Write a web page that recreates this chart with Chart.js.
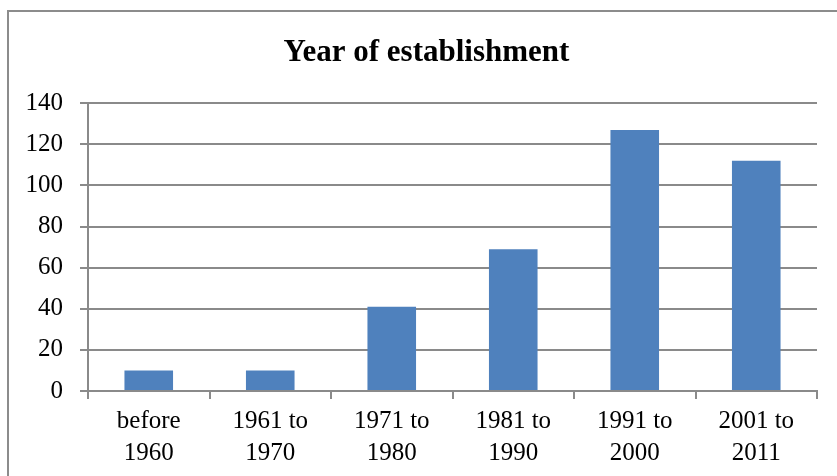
<!DOCTYPE html>
<html>
<head>
<meta charset="utf-8">
<script src="https://cdn.jsdelivr.net/npm/chart.js@4.4.1/dist/chart.umd.min.js"></script>
<style>
  html, body { margin: 0; padding: 0; background: #ffffff; overflow: hidden; }
  #frame {
    position: absolute; left: 7px; top: 10px;
    width: 900px; height: 600px;
    border: 2px solid #8c8c8c;
  }
  #year_chart { position: absolute; left: 0; top: 0; }
</style>
</head>
<body>
<div id="frame"></div>
<canvas id="year_chart" width="837" height="476"></canvas>
<script>
// values
const categories = [
  ["before", "1960"],
  ["1961 to", "1970"],
  ["1971 to", "1980"],
  ["1981 to", "1990"],
  ["1991 to", "2000"],
  ["2001 to", "2011"]
]
const companies = [10, 10, 41, 69, 127, 112]
const y_min = 0
const y_max = 140
const y_step = 20

const chart_title = "Year of establishment"
const bar_color = "#4F81BD"
const line_color = "#8a8a8a"
const serif = "'Liberation Serif', 'Times New Roman', serif"

function build_bar_config(labels_array, data_array) {
  return {
    type: "bar",
    data: {
      labels: labels_array,
      datasets: [{
        data: data_array,
        backgroundColor: bar_color,
        borderWidth: 0,
        categoryPercentage: 1,
        barPercentage: 0.4
      }]
    },
    options: {
      responsive: false,
      animation: false,
      devicePixelRatio: 1,
      layout: { padding: { left: 23, right: 7, top: 34, bottom: 0 } },
      plugins: {
        legend: { display: false },
        tooltip: { enabled: false },
        title: {
          display: true,
          text: chart_title,
          color: "#000000",
          font: { family: serif, size: 31, weight: "bold", lineHeight: 1.2 },
          padding: { top: 0, bottom: 32 }
        }
      },
      scales: {
        x: {
          afterFit: function (scale) {
            scale.height = 85
          },
          grid: {
            offset: true,
            drawOnChartArea: false,
            drawTicks: true,
            tickLength: 8,
            color: line_color,
            lineWidth: 2
          },
          border: { display: true, color: line_color, width: 2 },
          ticks: {
            color: "#000000",
            font: { family: serif, size: 25, lineHeight: 1.28 },
            padding: 6,
            maxRotation: 0,
            autoSkip: false
          }
        },
        y: {
          min: y_min,
          max: y_max,
          afterFit: function (scale) {
            // axis line sits at x=88
            scale.width = 65
          },
          grid: {
            color: line_color,
            lineWidth: 2,
            drawTicks: true,
            tickLength: 8
          },
          border: { display: true, color: line_color, width: 2 },
          ticks: {
            stepSize: y_step,
            color: "#000000",
            font: { family: serif, size: 25 },
            padding: 17
          }
        },
        // empty right-hand box, only there so the title centres like the original
        spacer: {
          type: "linear",
          position: "right",
          display: true,
          afterFit: function (scale) {
            scale.width = 13
          },
          grid: { display: false, drawTicks: false },
          border: { display: false },
          ticks: { display: false }
        }
      }
    }
  }
}

let ctx = document.getElementById("year_chart").getContext("2d")
new Chart(ctx, build_bar_config(categories, companies))
</script>
</body>
</html>
